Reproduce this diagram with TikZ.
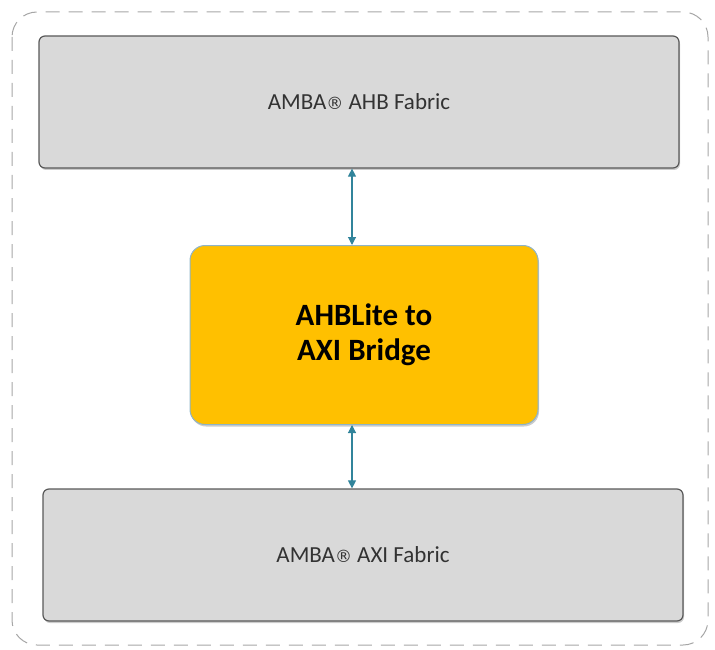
\documentclass[tikz,border=0pt]{standalone}
\usepackage{fontspec}
\setmainfont{Carlito}
\newfontfamily\regfont{DejaVu Sans}
\usetikzlibrary{shadows,arrows.meta}
\definecolor{fabgray}{HTML}{D9D9D9}
\definecolor{fabline}{HTML}{595959}
\definecolor{bridgey}{HTML}{FFC000}
\definecolor{bridgeline}{HTML}{8EB4C8}
\definecolor{linkteal}{HTML}{31849B}
\newcommand{\regmark}{{\regfont\fontsize{17}{19}\selectfont ®}}
\begin{document}
\begin{tikzpicture}[x=1pt,y=-1pt,
    fabric/.style={draw=fabline,line width=1.2pt,fill=fabgray,rounded corners=6pt,minimum width=640pt,minimum height=132pt,font=\fontsize{23}{27}\selectfont,text=black!80,drop shadow={shadow xshift=1pt,shadow yshift=-2pt,opacity=0.4}},
    bridge/.style={draw=bridgeline,line width=1pt,fill=bridgey,rounded corners=15pt,minimum width=348pt,minimum height=179pt,align=center,font=\fontsize{31}{35}\selectfont\bfseries,drop shadow={shadow xshift=1pt,shadow yshift=-2pt,opacity=0.4}},
    link/.style={linkteal,line width=1.1pt,{Triangle[width=8pt,length=8pt]}-{Triangle[width=8pt,length=8pt]}}]
      \useasboundingbox (0,0) rectangle (715,650);
      \draw[dashed,dash pattern=on 14pt off 9pt,gray!70,line width=1pt,rounded corners=25pt] (12,12) rectangle (708,645);
      \node[fabric] (ahb) at (359,102) {AMBA\regmark{} AHB Fabric};
      \node[bridge] (bridge) at (364,335) {AHBLite to\\AXI Bridge};
      \node[fabric] (axi) at (363,555) {AMBA\regmark{} AXI Fabric};
      \draw[link] (ahb.south -| 352,0) -- (bridge.north -| 352,0);
      \draw[link] (bridge.south -| 352,0) -- (axi.north -| 352,0);
    \end{tikzpicture}
\end{document}
